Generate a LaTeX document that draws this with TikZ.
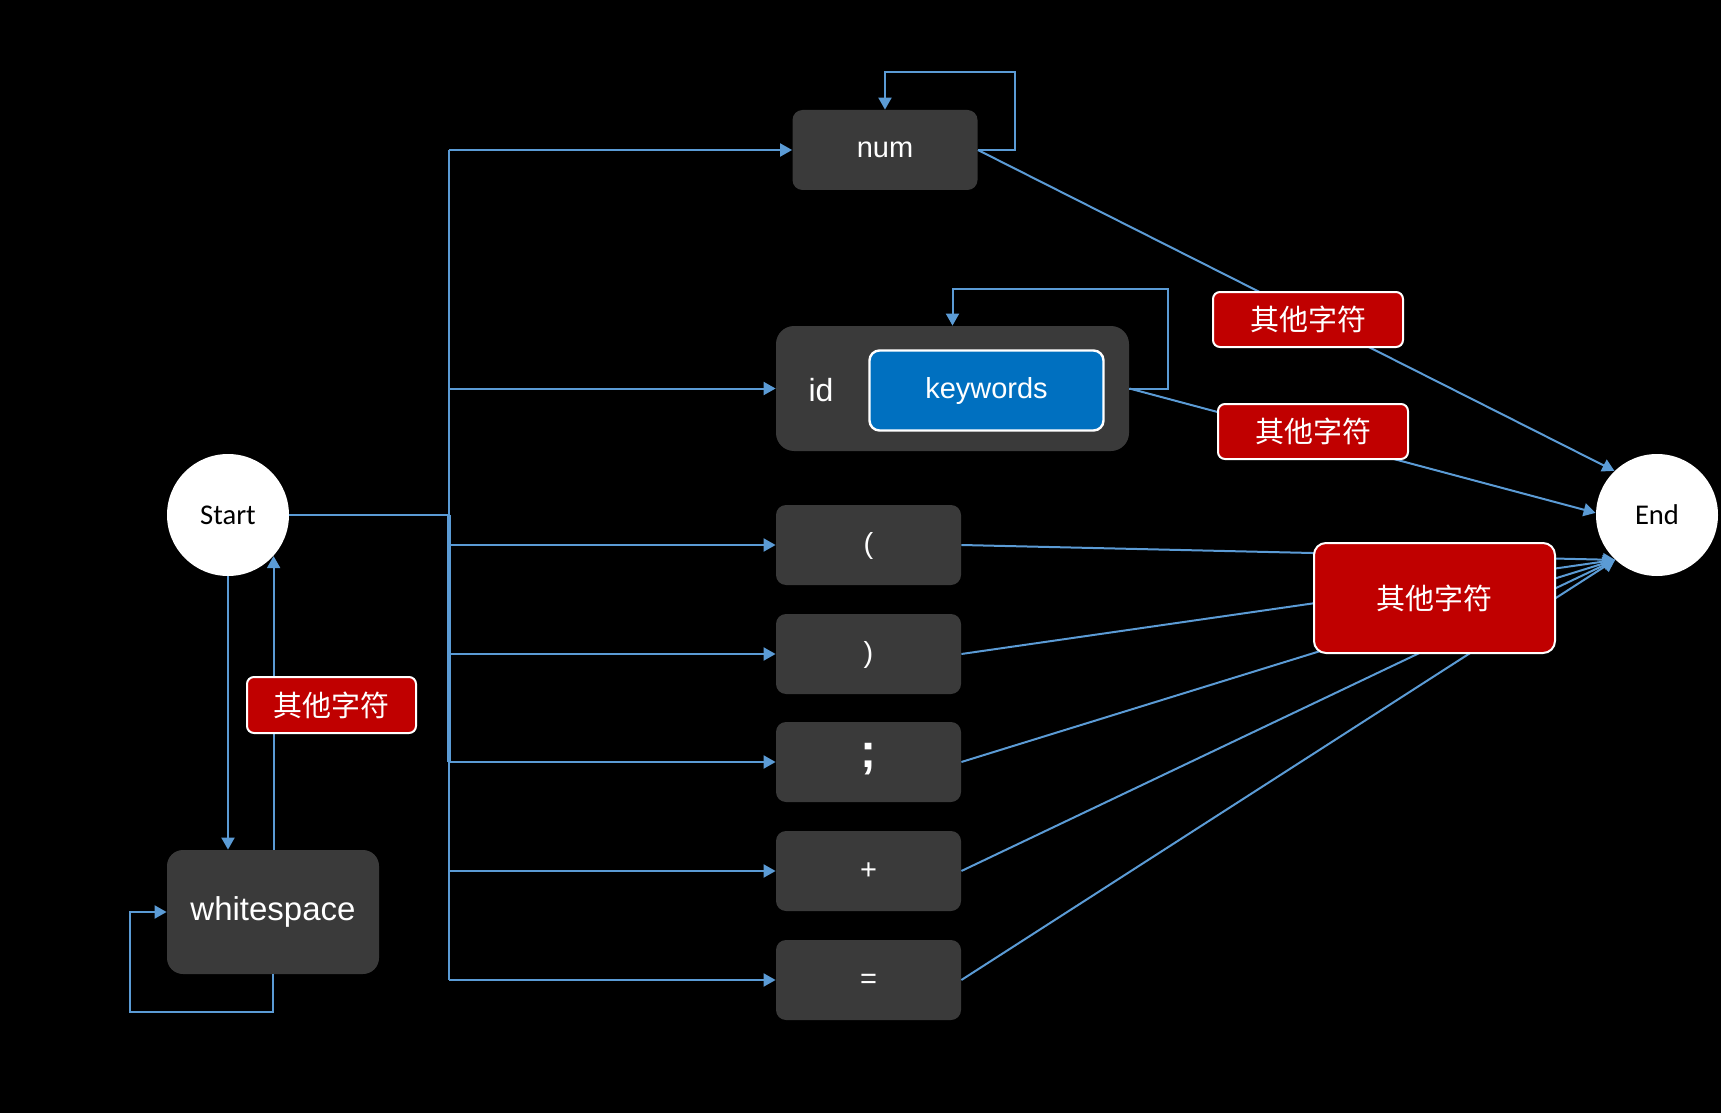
\documentclass[tikz,border=0pt]{standalone}
\usepackage{fontspec}
\setmainfont{Liberation Sans}
\newfontfamily\cjk{Noto Sans CJK SC}
\newfontfamily\calibri{Carlito}
\usetikzlibrary{arrows.meta,calc}
\definecolor{lineblue}{HTML}{5B9BD5}
\definecolor{boxgray}{HTML}{3A3A3A}
\definecolor{lblred}{HTML}{C00000}
\definecolor{kwblue}{HTML}{0070C0}

\begin{document}
\begin{tikzpicture}[x=0.5pt, y=-0.5pt,
statenode/.style={circle, fill=white, minimum size=61pt, inner sep=0pt, font=\calibri\fontsize{14.3}{16}\selectfont},
graybox/.style={rectangle, rounded corners=5pt, fill=boxgray, text=white, minimum width=92.5pt, minimum height=40pt, inner sep=0pt, text height=1em, text depth=0.2em, font=\fontsize{14.5}{17}\selectfont},
redlabel/.style={rectangle, rounded corners=3.5pt, draw=white, line width=1pt, fill=lblred, text=white, minimum width=95pt, minimum height=27.5pt, inner sep=0pt, font=\cjk\fontsize{14.5}{17}\selectfont},
link/.style={draw=lineblue, line width=1pt},
arrowlink/.style={link, -{Triangle[length=6pt, width=6.5pt]}},]

	\fill[black] (0,0) rectangle (1721,1113);

	% states and boxes
	\node (start) [statenode] at (228,515) {Start};
	\node (finish) [statenode] at (1657,515) {End};
	\node (ws) [graybox, minimum width=106pt, minimum height=62pt, rounded corners=8pt, font=\fontsize{16.5}{19}\selectfont] at (273,912) {whitespace};
	\node (num) [graybox] at (885,150) {num};
	\node (idbox) [graybox, minimum width=176.5pt, minimum height=62.5pt, rounded corners=9pt] at (952.5,388.5) {};
	\node (idtxt) [text=white, font=\fontsize{16}{19}\selectfont] at (821,390) {id};
	\node (kw) [rectangle, rounded corners=5pt, draw=white, line width=1.2pt, fill=kwblue, text=white, minimum width=117pt, minimum height=40pt, text height=1em, text depth=0.2em, font=\fontsize{14.5}{17}\selectfont] at (986.5,390.5) {keywords};
	\node (lparen) [graybox] at (868.5,545) {(};
	\node (rparen) [graybox] at (868.5,654) {)};
	\node (semi) [graybox, font=\bfseries\fontsize{24}{26}\selectfont] at (868.5,762) {\raisebox{1.5pt}{;}};
	\node (plus) [graybox] at (868.5,871) {+};
	\node (equal) [graybox] at (868.5,980) {=};

	% bus from start
	\coordinate (busmid) at (449,515);
	\draw[link] (start.east) -- (busmid);
	\draw[link] (num.west -| busmid) -- (equal.west -| busmid);
	\draw[link, line width=2pt] (busmid) -- (semi.west -| busmid);
	\foreach \n in {num,idbox,lparen,rparen,semi,plus,equal}
		\draw[arrowlink] (\n.west -| busmid) -- (\n.west);

	% loops
	\draw[arrowlink] (num.east) -- ++(37,0) -- ++(0,-78) -| (num.north);
	\draw[arrowlink] (idbox.east) -- ++(39,0) -- ++(0,-100) -| (idbox.north);
	\draw[arrowlink] (start.south) -- (start.south |- ws.north);
	\draw[arrowlink] (start.-42 |- ws.north) -- (start.-42);
	\draw[arrowlink] (ws.south) -- ++(0,38) -| ($(ws.west)+(-37,0)$) -- (ws.west);

	% to end
	\draw[arrowlink] (num.east) -- (finish.134);
	\draw[arrowlink] (idbox.east) -- (finish.178);
	\foreach \n in {lparen,rparen,semi,plus,equal}
		\draw[arrowlink] (\n.east) -- (finish.227);

	\node (lblA) [redlabel] at (1308,319.5) {其他字符};
	\node (lblB) [redlabel] at (1313,431.5) {其他字符};
	\node (lblC) [redlabel, minimum width=120.5pt, minimum height=55pt, rounded corners=6pt] at (1434.5,598) {其他字符};
	\node (lblD) [redlabel, minimum width=84.5pt, minimum height=28pt] at (331.5,705) {其他字符};

\end{tikzpicture}
\end{document}
